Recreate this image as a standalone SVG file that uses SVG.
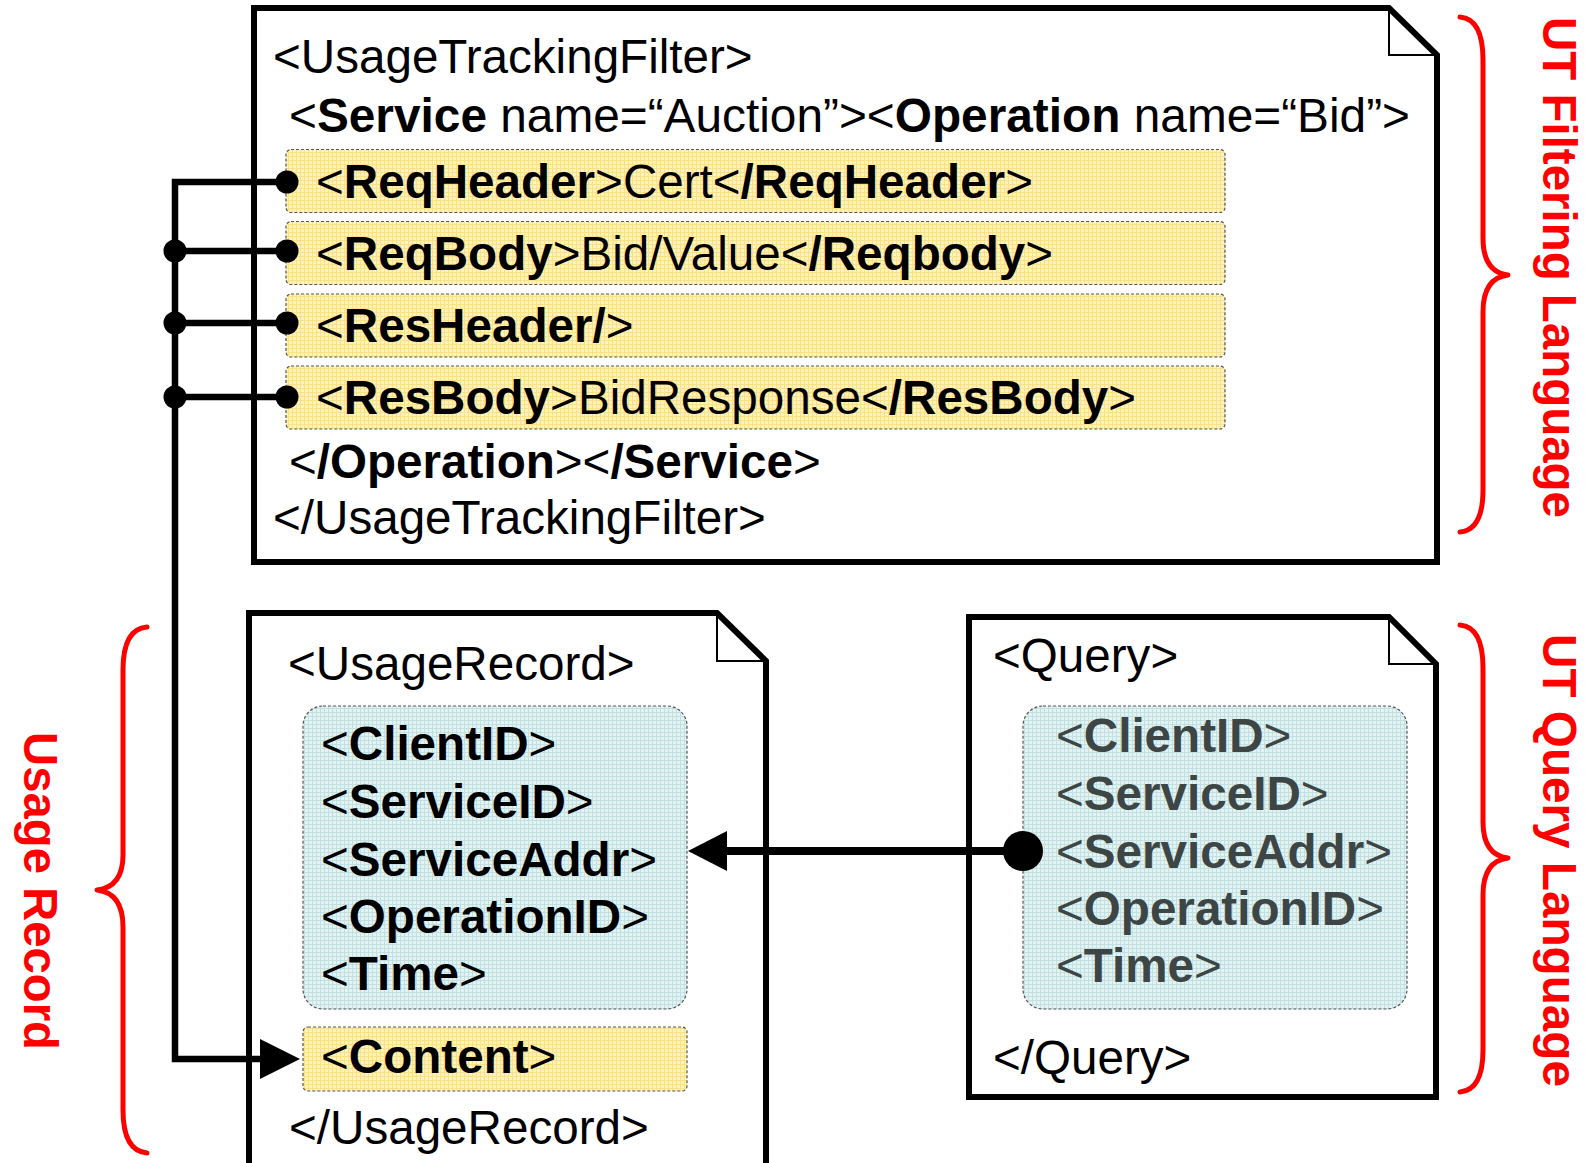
<svg xmlns="http://www.w3.org/2000/svg" width="1585" height="1163" viewBox="0 0 1585 1163">
<defs>
<pattern id="py" width="4" height="4" patternUnits="userSpaceOnUse"><rect width="4" height="4" fill="#fff3bd"/><path d="M0,0.5H4M0.5,0V4" stroke="#fbe08a" stroke-width="1"/></pattern>
<pattern id="pb" width="4" height="4" patternUnits="userSpaceOnUse"><rect width="4" height="4" fill="#e3f2f2"/><path d="M0,0.5H4M0.5,0V4" stroke="#c2e0e1" stroke-width="1"/></pattern>
</defs>
<style>
.t{font-family:"Liberation Sans",Arial,sans-serif;font-size:47.6px;fill:#000}
.b{font-weight:bold}
.q{fill:#3d4545}
.doc{fill:#fff;stroke:#000;stroke-width:6;stroke-linejoin:miter}
.fold{fill:none;stroke:#000;stroke-width:2}
.yel{fill:url(#py);stroke:#555;stroke-width:1.2;stroke-dasharray:3 2}
.blu{fill:url(#pb);stroke:#555;stroke-width:1.2;stroke-dasharray:3 2}
.brace{fill:none;stroke:#f00;stroke-width:5;stroke-linecap:round;stroke-linejoin:round}
.lbl{font-family:"Liberation Sans",Arial,sans-serif;font-size:48px;font-weight:bold;fill:#f00}
.con{fill:none;stroke:#000;stroke-width:6.5}
.arr{fill:none;stroke:#000;stroke-width:8}
</style>

<g id="filter-doc">
<path class="doc" d="M254,8 H1389 L1437,55 V562 H254 Z"/>
<path class="fold" d="M1389,8 V55 H1437"/>
<text class="t" x="273" y="73">&lt;UsageTrackingFilter&gt;</text>
<text class="t" x="289" y="132" textLength="1121" lengthAdjust="spacingAndGlyphs">&lt;<tspan class="b">Service</tspan> name=“Auction”&gt;&lt;<tspan class="b">Operation</tspan> name=“Bid”&gt;</text>
<g id="row-reqheader">
<rect class="yel" x="286" y="149.5" width="939" height="63" rx="5"/>
<text class="t" x="316" y="198">&lt;<tspan class="b">ReqHeader</tspan>&gt;Cert&lt;<tspan class="b">/ReqHeader</tspan>&gt;</text>
</g>
<g id="row-reqbody">
<rect class="yel" x="286" y="221.5" width="939" height="63" rx="5"/>
<text class="t" x="316" y="270">&lt;<tspan class="b">ReqBody</tspan>&gt;Bid/Value&lt;<tspan class="b">/Reqbody</tspan>&gt;</text>
</g>
<g id="row-resheader">
<rect class="yel" x="286" y="294" width="939" height="63" rx="5"/>
<text class="t" x="316" y="342">&lt;<tspan class="b">ResHeader/</tspan>&gt;</text>
</g>
<g id="row-resbody">
<rect class="yel" x="286" y="366" width="939" height="63" rx="5"/>
<text class="t" x="316" y="414">&lt;<tspan class="b">ResBody</tspan>&gt;BidResponse&lt;<tspan class="b">/ResBody</tspan>&gt;</text>
</g>
<text class="t" x="289" y="478">&lt;<tspan class="b">/Operation</tspan>&gt;&lt;<tspan class="b">/Service</tspan>&gt;</text>
<text class="t" x="273" y="534">&lt;/UsageTrackingFilter&gt;</text>
</g>

<g id="usage-record">
<path class="doc" d="M249,613 H717 L766,661 V1180 H249 Z"/>
<path class="fold" d="M717,613 V661 H766"/>
<text class="t" x="288" y="680">&lt;UsageRecord&gt;</text>
<rect class="blu" x="303" y="706" width="384" height="303" rx="20"/>
<text class="t" x="321" y="760">&lt;<tspan class="b">ClientID</tspan>&gt;</text>
<text class="t" x="321" y="818">&lt;<tspan class="b">ServiceID</tspan>&gt;</text>
<text class="t" x="321" y="876">&lt;<tspan class="b">ServiceAddr</tspan>&gt;</text>
<text class="t" x="321" y="933">&lt;<tspan class="b">OperationID</tspan>&gt;</text>
<text class="t" x="321" y="990">&lt;<tspan class="b">Time</tspan>&gt;</text>
<g id="row-content">
<rect class="yel" x="303" y="1027" width="384" height="64" rx="5"/>
<text class="t" x="321" y="1073">&lt;<tspan class="b">Content</tspan>&gt;</text>
</g>
<text class="t" x="289" y="1144">&lt;/UsageRecord&gt;</text>
</g>

<g id="query">
<path class="doc" d="M969,617 H1389 L1436,664 V1097 H969 Z"/>
<path class="fold" d="M1389,617 V664 H1436"/>
<text class="t" x="993" y="672">&lt;Query&gt;</text>
<rect class="blu" x="1023" y="706" width="384" height="303" rx="20"/>
<text class="t q" x="1056" y="752">&lt;<tspan class="b">ClientID</tspan>&gt;</text>
<text class="t q" x="1056" y="810">&lt;<tspan class="b">ServiceID</tspan>&gt;</text>
<text class="t q" x="1056" y="868">&lt;<tspan class="b">ServiceAddr</tspan>&gt;</text>
<text class="t q" x="1056" y="925">&lt;<tspan class="b">OperationID</tspan>&gt;</text>
<text class="t q" x="1056" y="982">&lt;<tspan class="b">Time</tspan>&gt;</text>
<text class="t" x="993" y="1074">&lt;/Query&gt;</text>
</g>

<g id="label-filtering">
<path class="brace" d="M1460,17 Q1483,19 1483,60 L1483,238 Q1483,272 1508,275 Q1483,278 1483,312 L1483,490 Q1483,530 1460,532"/>
<text class="lbl" transform="translate(1543,17) rotate(90)" textLength="501" lengthAdjust="spacingAndGlyphs">UT Filtering Language</text>
</g>
<g id="label-query">
<path class="brace" d="M1460,625 Q1483,627 1483,668 L1483,822 Q1483,855 1508,858 Q1483,861 1483,895 L1483,1050 Q1483,1090 1460,1092"/>
<text class="lbl" transform="translate(1543,634) rotate(90)" textLength="453" lengthAdjust="spacingAndGlyphs">UT Query Language</text>
</g>
<g id="label-usage">
<path class="brace" d="M147,627 Q123,629 123,670 L123,855 Q123,887 97,890 Q123,893 123,927 L123,1110 Q123,1151 147,1153"/>
<text class="lbl" transform="translate(24,732) rotate(90)" textLength="318" lengthAdjust="spacingAndGlyphs">Usage Record</text>
</g>

<g id="connectors">
<path class="con" d="M287,182 H175 V1059 H262"/>
<path class="con" d="M175,251 H287 M175,323 H287 M175,397 H287"/>
<polygon points="260,1039 300,1059 260,1079" fill="#000"/>
<g fill="#000">
<circle cx="287" cy="182" r="11.5"/>
<circle cx="287" cy="251" r="11.5"/>
<circle cx="287" cy="323" r="11.5"/>
<circle cx="287" cy="397" r="11.5"/>
<circle cx="175" cy="251" r="11.5"/>
<circle cx="175" cy="323" r="11.5"/>
<circle cx="175" cy="397" r="11.5"/>
</g>
<path class="arr" d="M1023,851 H724"/>
<polygon points="727,831 688,851 727,871" fill="#000"/>
<circle cx="1023" cy="851" r="20" fill="#000"/>
</g>
</svg>
